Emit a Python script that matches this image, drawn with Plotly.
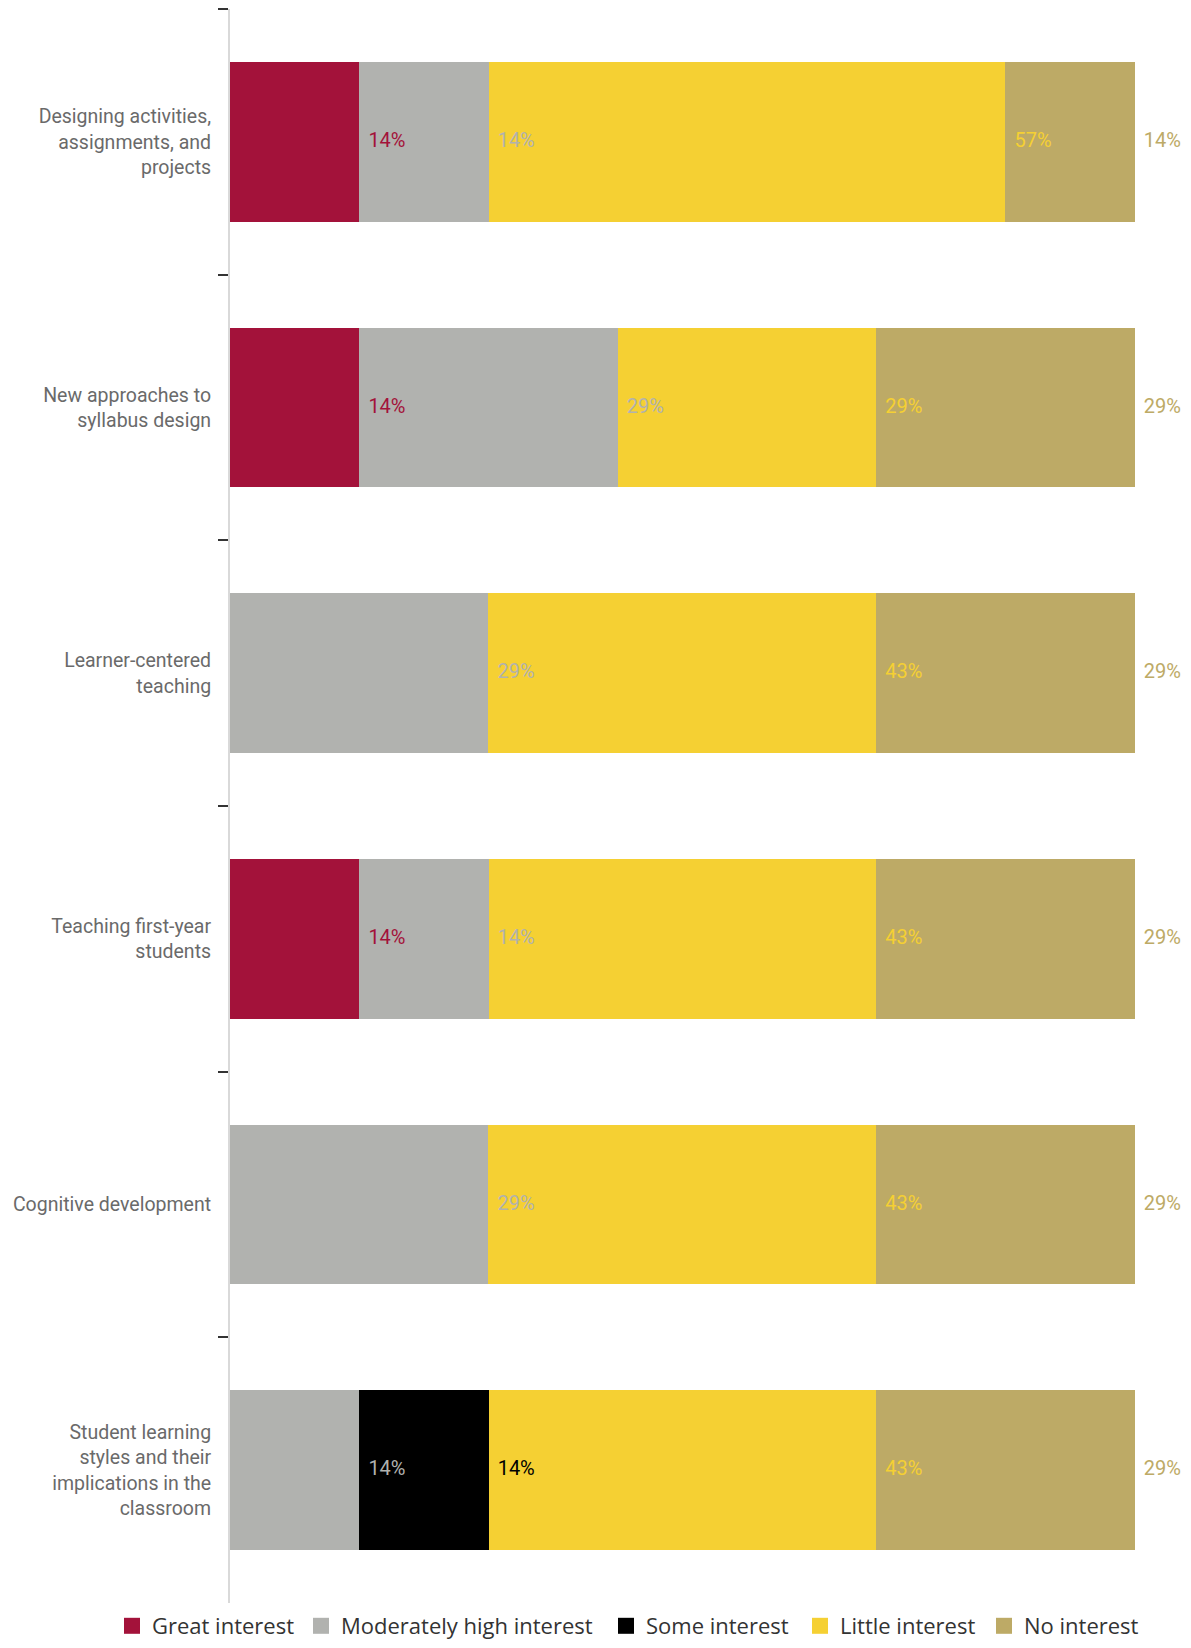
import plotly.graph_objects as go

# ---- data (percent of respondents) ----
categories = [
    "Designing activities,<br>assignments, and<br>projects",
    "New approaches to<br>syllabus design",
    "Learner-centered<br>teaching",
    "Teaching first-year<br>students",
    "Cognitive development",
    "Student learning<br>styles and their<br>implications in the<br>classroom",
]
series_names = ["Great interest", "Moderately high interest", "Some interest",
                "Little interest", "No interest"]
series_colors = ["#A3123A", "#B1B2AF", "#000000", "#F5D033", "#BDAA66"]

great_interest = [14.29, 14.29, 0, 14.29, 0, 0]
moderately_high = [14.29, 28.57, 28.57, 14.29, 28.57, 14.29]
some_interest = [0, 0, 0, 0, 0, 14.29]
little_interest = [57.14, 28.57, 42.86, 42.86, 42.86, 42.86]
no_interest = [14.29, 28.57, 28.57, 28.57, 28.57, 28.57]

series_values = [great_interest, moderately_high, some_interest,
                 little_interest, no_interest]

# legend entry widths (px) to match the reference spacing
legend_widths = [144, 260, 149, 139, 120]

W, H = 1175, 1632
ML, MR, MT, MB = 222, 48, 1, 37

fig = go.Figure()

cum = [0.0] * len(categories)
for name, color, vals in zip(series_names, series_colors, series_values):
    fig.add_trace(go.Bar(
        orientation="h", y=categories, x=vals, name=name,
        marker=dict(color=color, line=dict(width=0)),
        showlegend=False, hoverinfo="x+y",
    ))
    ends = [c + v for c, v in zip(cum, vals)]
    lx, ly, lt = [], [], []
    for cat, e, v in zip(categories, ends, vals):
        if v > 0:
            lx.append(e)
            ly.append(cat)
            lt.append(f"{round(v)}%")
    fig.add_trace(go.Scatter(
        x=lx, y=ly, text=lt, mode="markers+text", textposition="middle right",
        marker=dict(size=13, color="rgba(0,0,0,0)"),
        textfont=dict(family="Roboto, sans-serif", size=20, color=color),
        cliponaxis=False, showlegend=False, hoverinfo="skip",
    ))
    cum = ends

# legend entries
for name, color, lw in zip(series_names, series_colors, legend_widths):
    fig.add_trace(go.Scatter(
        x=[None], y=[None], mode="markers", name=name,
        marker=dict(symbol="square", size=16, color=color),
        showlegend=True, legendwidth=lw,
    ))

plot_w = W - ML - MR
plot_h = H - MT - MB

fig.update_layout(
    width=W, height=H,
    barmode="stack", bargap=0.4,
    paper_bgcolor="white", plot_bgcolor="white",
    margin=dict(l=ML, r=MR, t=MT, b=MB, autoexpand=False),
    xaxis=dict(range=[0, 100.05], visible=False, showgrid=False, zeroline=False),
    yaxis=dict(
        type="category", categoryorder="array", categoryarray=categories,
        autorange="reversed",
        showline=True, linecolor="#D9D9D9", linewidth=2,
        ticks="outside", ticklen=10, tickwidth=2, tickcolor="#333333",
        tickson="boundaries", ticklabelstandoff=13,
        tickfont=dict(family="Roboto, sans-serif", size=19.5, color="#6A6A6A"),
        showgrid=False, zeroline=False,
    ),
    legend=dict(
        orientation="h", xref="paper", yref="paper",
        x=(104 - ML) / plot_w, y=-(1618 - (MT + plot_h)) / plot_h,
        xanchor="left", yanchor="middle",
        font=dict(family="Open Sans, sans-serif", size=22, color="#333333"),
        itemsizing="trace", traceorder="normal",
    ),
)

fig.write_html("out.html")
